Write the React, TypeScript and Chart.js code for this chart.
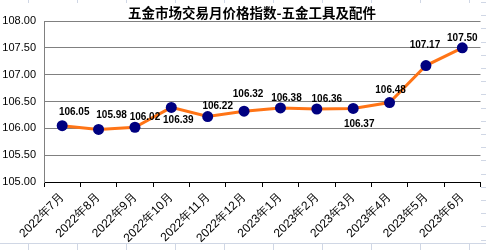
import React, { useEffect, useRef } from "react";
import { Chart, registerables } from "chart.js";

Chart.register(...registerables);

const titleText = "五金市场交易月价格指数-五金工具及配件";
const categories = [
  "2022年7月", "2022年8月", "2022年9月", "2022年10月", "2022年11月", "2022年12月",
  "2023年1月", "2023年2月", "2023年3月", "2023年4月", "2023年5月", "2023年6月",
];
const values = [106.05, 105.98, 106.02, 106.39, 106.22, 106.32, 106.38, 106.36, 106.37, 106.48, 107.17, 107.5];
const yMin = 105;
const yMax = 108;
const yStep = 0.5;
// label placement offsets (style only): [dx, dy] relative to each point
const labelOffsets: [number, number][] = [
  [12, -13], [13, -14], [10, -10], [7, 13], [10, -10], [4, -17],
  [6, -10], [10, -10], [6, 16], [1, -12], [-1, -20], [0, -10],
];

export default function App() {
  const ref = useRef<HTMLCanvasElement>(null);
  useEffect(() => {
    document.body.style.margin = "0";
    const canvas = ref.current!;
    const bgGrid = {
      id: "bgGrid",
      beforeDraw(chart: any) {
        const ctx = chart.ctx;
        ctx.save();
        ctx.fillStyle = "#ffffff";
        ctx.fillRect(0, 0, chart.width, chart.height);
        ctx.strokeStyle = "#d0d7e5";
        ctx.lineWidth = 1;
        for (let x = 28; x < 486; x += 49) {
          ctx.beginPath();
          ctx.moveTo(x + 0.5, 0);
          ctx.lineTo(x + 0.5, 3);
          ctx.moveTo(x + 0.5, 243);
          ctx.lineTo(x + 0.5, 250);
          ctx.stroke();
        }
        for (let y = 2; y < 250; y += 13.2) {
          ctx.beginPath();
          ctx.moveTo(481, Math.round(y) + 0.5);
          ctx.lineTo(486, Math.round(y) + 0.5);
          ctx.stroke();
        }
        ctx.beginPath();
        ctx.moveTo(0, 243.5);
        ctx.lineTo(486, 243.5);
        ctx.stroke();
        ctx.restore();
      },
    };
    const overlay = {
      id: "overlay",
      afterDatasetsDraw(chart: any) {
        const ctx = chart.ctx;
        ctx.save();
        ctx.fillStyle = "#000000";
        ctx.font = "bold 13.5px 'Noto Sans CJK SC'";
        ctx.textAlign = "center";
        ctx.textBaseline = "middle";
        ctx.fillText(titleText, 252, 13);
        ctx.font = "bold 10px 'Liberation Sans', Arial, sans-serif";
        const meta = chart.getDatasetMeta(0);
        meta.data.forEach((pt: any, i: number) => {
          const [dx, dy] = labelOffsets[i];
          ctx.fillText(values[i].toFixed(2), pt.x + dx, pt.y + dy);
        });
        ctx.restore();
      },
    };
    const chart = new Chart(canvas, {
      type: "line",
      data: {
        labels: categories,
        datasets: [
          {
            data: values,
            borderColor: "#FF7416",
            borderWidth: 3,
            backgroundColor: "#000080",
            pointBackgroundColor: "#000080",
            pointBorderColor: "#000080",
            pointRadius: 5.5,
            pointBorderWidth: 0,
            tension: 0,
          },
        ],
      },
      options: {
        animation: false,
        responsive: false,
        devicePixelRatio: 1,
        layout: { padding: { top: 21, right: 5, left: 0, bottom: 0 } },
        plugins: { legend: { display: false }, tooltip: { enabled: false }, title: { display: false } },
        scales: {
          x: {
            offset: true,
            grid: { display: true, offset: true, drawOnChartArea: false, drawTicks: true, tickLength: 5, color: "#000000" },
            border: { display: true, color: "#000000", width: 1 },
            ticks: {
              color: "#000000",
              font: { family: "'Liberation Sans', Arial, sans-serif", size: 12 },
              maxRotation: 45,
              minRotation: 45,
              autoSkip: false,
              padding: 3,
            },
            afterFit: (s: any) => { s.height = 68; },
          },
          y: {
            min: yMin,
            max: yMax,
            ticks: {
              stepSize: yStep,
              color: "#000000",
              font: { family: "'Liberation Sans', Arial, sans-serif", size: 11 },
              padding: 8,
              callback: (v: any) => Number(v).toFixed(2),
            },
            grid: { color: "#808080", drawTicks: false, lineWidth: 1 },
            border: { display: true, color: "#808080" },
            afterFit: (s: any) => { s.width = 44; },
          },
        },
      },
      plugins: [bgGrid, overlay],
    });
    return () => chart.destroy();
  }, []);
  return (
    <div style={{ width: 486, height: 250 }}>
      <canvas ref={ref} width={486} height={250} style={{ display: "block" }} />
    </div>
  );
}
